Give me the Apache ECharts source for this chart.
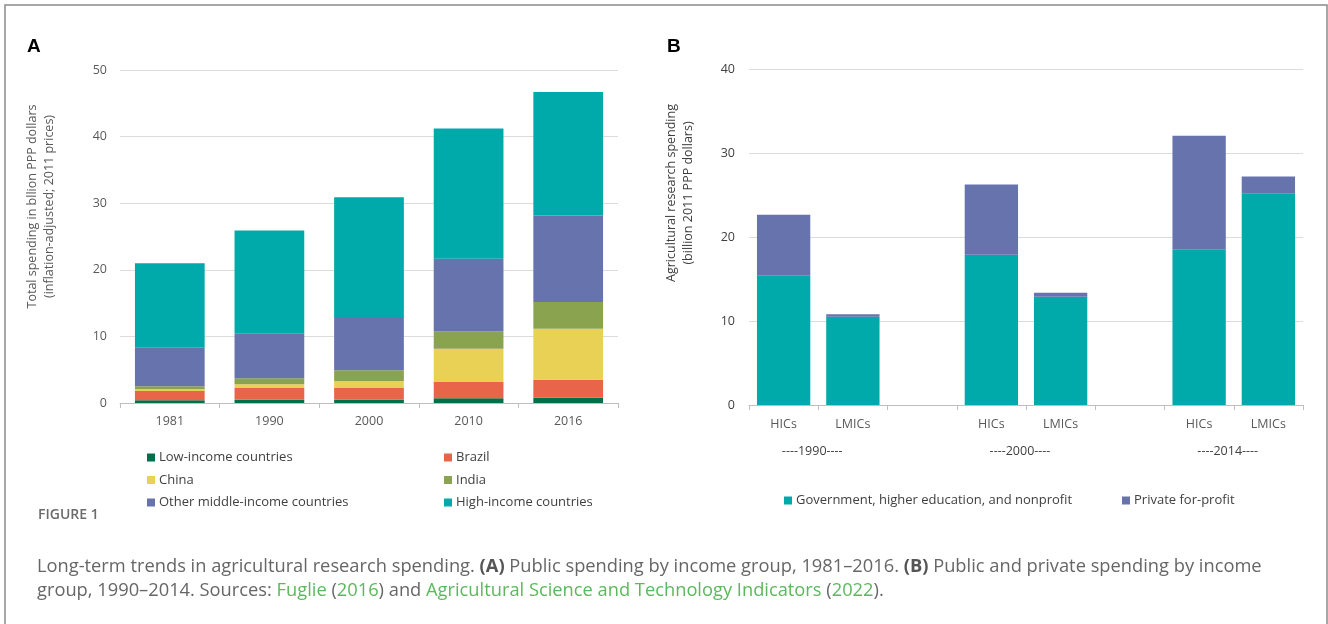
<!DOCTYPE html>
<html>
<head>
<meta charset="utf-8">
<title>Agricultural research spending</title>
<script src="https://cdn.jsdelivr.net/npm/echarts@6/dist/echarts.min.js"></script>
<style>
  html, body { margin: 0; padding: 0; background: #ffffff; }
  #chart { width: 1328px; height: 624px; }
</style>
</head>
<body>
<div id="chart"></div>
<script>
// Panel A: public spending by income group (billion 2011 PPP dollars)
const yearsA = ['1981', '1990', '2000', '2010', '2016'];
const lowIncome   = [0.4, 0.5, 0.5, 0.7, 0.8];
const brazil      = [1.4, 1.75, 1.75, 2.45, 2.7];
const china       = [0.25, 0.55, 1.05, 5.0, 7.65];
const india       = [0.45, 0.9, 1.6, 2.6, 4.0];
const otherMiddle = [5.8, 6.7, 8.0, 10.9, 13.0];
const highIncome  = [12.7, 15.5, 18.0, 19.55, 18.55];
const ticksA = [0, 10, 20, 30, 40, 50];

// Panel B: public vs private spending, grouped by year (blank slots separate the groups)
const groupsB = ['HICs', 'LMICs', '', 'HICs', 'LMICs', '', 'HICs', 'LMICs'];
const government    = [15.4, 10.5, null, 17.9, 12.9, null, 18.55, 25.15];
const privateProfit = [7.25, 0.3, null, 8.35, 0.45, null, 13.5, 2.05];
const yearLabelsB = ['----1990----', '----2000----', '----2014----'];
const ticksB = [0, 10, 20, 30, 40];

const C = {
  low: '#00704a', brazil: '#e8654a', china: '#e9d155', india: '#8aa34f',
  other: '#6673ad', high: '#00aaaa'
};
const labelColor = '#595959';
const font = 'Open Sans';

// year label sits on the boundary between the HICs and LMICs bars of each group
const yearBoundary = {};
groupsB.forEach((g, i) => {
  if (g === 'HICs') yearBoundary[i + 1] = yearLabelsB[Object.keys(yearBoundary).length];
});

function barSeries(name, data, color, xi, yi, width) {
  return {
    name, type: 'bar', stack: 's' + xi, data,
    xAxisIndex: xi, yAxisIndex: yi, barWidth: width,
    itemStyle: { color },
    emphasis: { disabled: true }
  };
}

const legendText = { fontFamily: font, fontSize: 13, color: '#404040', padding: [0, 0, 0, -1] };

const chart = echarts.init(document.getElementById('chart'), null, { renderer: 'canvas' });

chart.setOption({
  backgroundColor: '#ffffff',
  animation: false,
  textStyle: { fontFamily: font },
  title: [
    { text: 'A', left: 27, top: 37, padding: 0, textStyle: { fontFamily: 'Liberation Sans', fontWeight: 'bold', fontSize: 19, color: '#000' } },
    { text: 'B', left: 667, top: 37, padding: 0, textStyle: { fontFamily: 'Liberation Sans', fontWeight: 'bold', fontSize: 19, color: '#000' } },
    { text: 'FIGURE 1', left: 38, top: 508, padding: 0, textStyle: { fontFamily: font, fontWeight: 600, fontSize: 14, color: '#6b6b6b' } },
    {
      text: 'Long-term trends in agricultural research spending. {b|(A)} Public spending by income group, 1981\u20132016. {b|(B)} Public and private spending by income',
      left: 37, top: 558, padding: 0,
      textStyle: {
        fontFamily: font, fontWeight: 'normal', fontSize: 18.3, color: '#666666',
        rich: { b: { fontFamily: font, fontWeight: 'bold', fontSize: 18.3, color: '#555555' } }
      }
    },
    {
      text: 'group, 1990\u20132014. Sources: {g|Fuglie} ({g|2016}) and {g|Agricultural Science and Technology Indicators} ({g|2022}).',
      left: 37, top: 582, padding: 0,
      textStyle: {
        fontFamily: font, fontWeight: 'normal', fontSize: 18.3, color: '#666666',
        rich: { g: { fontFamily: font, fontSize: 18.3, color: '#5cb85c' } }
      }
    }
  ],
  legend: [
    {
      left: 142, top: 446, orient: 'vertical', itemWidth: 8, itemHeight: 8, itemGap: 9.5,
      icon: 'rect', selectedMode: false, textStyle: legendText,
      data: ['Low-income countries', 'China', 'Other middle-income countries']
    },
    {
      left: 439, top: 446, orient: 'vertical', itemWidth: 8, itemHeight: 8, itemGap: 9.5,
      icon: 'rect', selectedMode: false, textStyle: legendText,
      data: ['Brazil', 'India', 'High-income countries']
    },
    {
      left: 779, top: 489, itemWidth: 8, itemHeight: 8, icon: 'rect', selectedMode: false,
      textStyle: legendText,
      data: ['Government, higher education, and nonprofit']
    },
    {
      left: 1117, top: 489, itemWidth: 8, itemHeight: 8, icon: 'rect', selectedMode: false,
      textStyle: legendText,
      data: ['Private for-profit']
    }
  ],
  grid: [
    { left: 120, right: 710, top: 70, bottom: 221 },
    { left: 749, right: 25, top: 69, bottom: 219 }
  ],
  xAxis: [
    {
      gridIndex: 0, type: 'category', data: yearsA,
      axisLine: { lineStyle: { color: '#bfbfbf' } },
      axisTick: { show: true, length: 5, lineStyle: { color: '#bfbfbf' } },
      axisLabel: { color: labelColor, fontSize: 12.5, margin: 12 }
    },
    {
      gridIndex: 1, type: 'category', data: groupsB,
      axisLine: { lineStyle: { color: '#bfbfbf' } },
      axisTick: { show: true, length: 5, interval: 0, lineStyle: { color: '#bfbfbf' } },
      axisLabel: { color: labelColor, fontSize: 12.5, margin: 13, interval: 0 }
    },
    {
      gridIndex: 1, type: 'value', min: 0, max: groupsB.length, interval: 1, position: 'bottom', offset: 27,
      axisLine: { show: false }, axisTick: { show: false }, splitLine: { show: false },
      axisLabel: {
        color: '#404040', fontSize: 12.5, margin: 13, showMinLabel: true, showMaxLabel: true,
        padding: [0, 12, 0, 0],
        formatter: v => yearBoundary[v] || ''
      }
    }
  ],
  yAxis: [
    {
      gridIndex: 0, type: 'value', min: ticksA[0], max: ticksA[ticksA.length - 1], interval: 10,
      name: 'Total spending in bllion PPP dollars\n(inflation-adjusted; 2011 prices)',
      nameLocation: 'middle', nameGap: 62,
      nameTextStyle: { color: labelColor, fontSize: 12.5, lineHeight: 17, padding: [0, 0, 0, 60] },
      axisLine: { show: false }, axisTick: { show: false },
      axisLabel: { color: labelColor, fontSize: 12.5, margin: 13 },
      splitLine: { lineStyle: { color: '#dcdcdc' } }
    },
    {
      gridIndex: 1, type: 'value', min: ticksB[0], max: ticksB[ticksB.length - 1], interval: 10,
      name: 'Agricultural research spending\n(billion 2011 PPP dollars)',
      nameLocation: 'middle', nameGap: 52,
      nameTextStyle: { color: '#404040', fontSize: 12.5, lineHeight: 17, padding: [0, 0, 0, 88] },
      axisLine: { show: false }, axisTick: { show: false },
      axisLabel: { color: '#404040', fontSize: 12.5, margin: 14 },
      splitLine: { lineStyle: { color: '#dcdcdc' } }
    }
  ],
  series: [
    barSeries('Low-income countries', lowIncome, C.low, 0, 0, '70%'),
    barSeries('Brazil', brazil, C.brazil, 0, 0, '70%'),
    barSeries('China', china, C.china, 0, 0, '70%'),
    barSeries('India', india, C.india, 0, 0, '70%'),
    barSeries('Other middle-income countries', otherMiddle, C.other, 0, 0, '70%'),
    barSeries('High-income countries', highIncome, C.high, 0, 0, '70%'),
    barSeries('Government, higher education, and nonprofit', government, C.high, 1, 1, '77%'),
    barSeries('Private for-profit', privateProfit, C.other, 1, 1, '77%')
  ],
  graphic: [
    {
      type: 'rect', silent: true, z: 100,
      shape: { x: 5, y: 5, width: 1322, height: 660 },
      style: { fill: 'none', stroke: '#8a8a8a', lineWidth: 1.5 }
    }
  ]
});
</script>
</body>
</html>
